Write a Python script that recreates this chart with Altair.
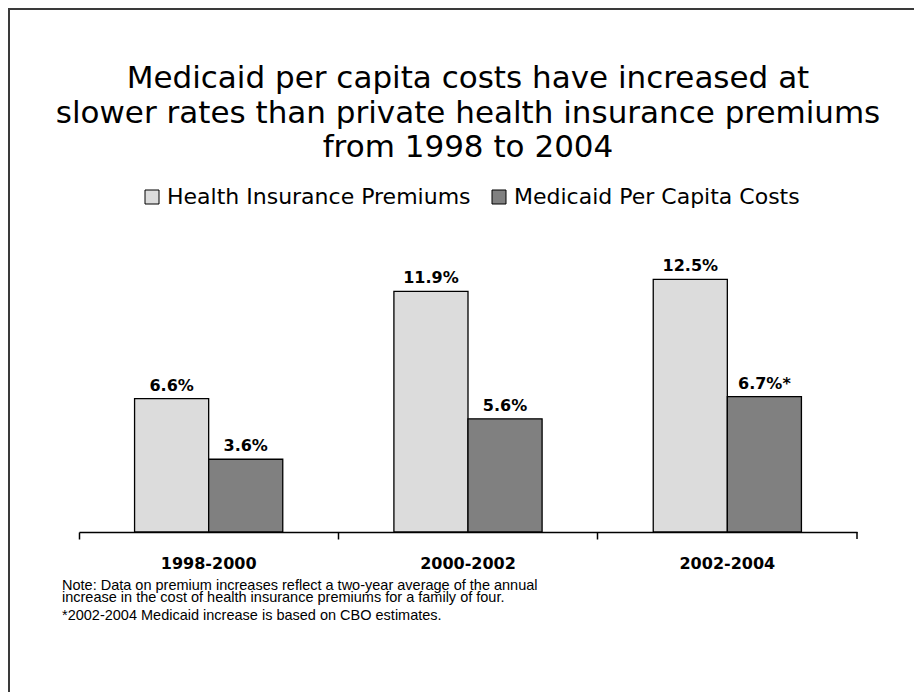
import altair as alt
import pandas as pd

periods = ["1998-2000", "2000-2002", "2002-2004"]
series = ["Health Insurance Premiums", "Medicaid  Per Capita Costs"]
health = [6.6, 11.9, 12.5]
medicaid = [3.6, 5.6, 6.7]
health_labels = ["6.6%", "11.9%", "12.5%"]
medicaid_labels = ["3.6%", "5.6%", "6.7%*"]
colors = ["#dcdcdc", "#808080"]

title_lines = [
    "Medicaid per capita costs have increased at",
    "slower rates than private health insurance premiums",
    "from 1998 to 2004",
]
note_lines = [
    "Note:  Data on premium increases reflect a two-year average of the annual",
    "increase in the cost of health insurance premiums for a family of four.",
]
footnote = "*2002-2004 Medicaid increase is based on CBO estimates."

rows = []
for i, p in enumerate(periods):
    rows.append(dict(period=p, series=series[0], value=health[i], label=health_labels[i]))
    rows.append(dict(period=p, series=series[1], value=medicaid[i], label=medicaid_labels[i]))
df = pd.DataFrame(rows)
cats = pd.DataFrame({"period": periods})
one = pd.DataFrame({"a": [0]})

W, H = 778, 283
FONT = "DejaVu Sans"

x = alt.X(
    "period:N", sort=periods,
    scale=alt.Scale(paddingInner=0, paddingOuter=0),
    axis=alt.Axis(title=None, labels=False, bandPosition=0, domainColor="black",
                  tickColor="black", tickSize=7, domainWidth=1.5, tickWidth=1.5, grid=False),
)
xo = alt.XOffset("series:N", sort=series, scale=alt.Scale(paddingOuter=0.75, paddingInner=0))
y = alt.Y("value:Q", scale=alt.Scale(domain=[0, 14]), axis=None)

bars = alt.Chart(df).mark_bar(stroke="black", strokeWidth=1.3).encode(
    x=x, xOffset=xo, y=y,
    color=alt.Color(
        "series:N", sort=series, scale=alt.Scale(domain=series, range=colors),
        legend=alt.Legend(title=None, orient="none", legendX=62, legendY=-63,
                          direction="horizontal", symbolType="square", symbolSize=196,
                          symbolStrokeColor="black", symbolStrokeWidth=1,
                          labelFont=FONT, labelFontSize=22, labelColor="black",
                          labelLimit=0, columnPadding=17, labelOffset=4),
    ),
)

values = alt.Chart(df).mark_text(
    dy=-8, baseline="alphabetic", font=FONT, fontWeight="bold", fontSize=16, color="black"
).encode(x=x, xOffset=xo, y=y, text="label:N")

cat_labels = alt.Chart(cats).mark_text(
    baseline="alphabetic", font=FONT, fontWeight="bold", fontSize=16, color="black"
).encode(x=alt.X("period:N", sort=periods), y=alt.value(H + 37), text="period:N")

end_tick = alt.Chart(one).mark_rule(color="black", strokeWidth=1.5).encode(
    x=alt.value(W), y=alt.value(H), y2=alt.value(H + 7)
)

title = alt.Chart(one).mark_text(
    align="center", baseline="alphabetic", font=FONT, fontSize=31, lineHeight=34.5, color="black"
).encode(x=alt.value(W / 2), y=alt.value(-161), text=alt.value(title_lines))

notes = alt.Chart(one).mark_text(
    align="left", baseline="alphabetic", font="Liberation Sans", fontSize=14.5, lineHeight=11.5,
    color="black"
).encode(x=alt.value(-17), y=alt.value(341), text=alt.value(note_lines))

foot = alt.Chart(one).mark_text(
    align="left", baseline="alphabetic", font="Liberation Sans", fontSize=14.5, color="black"
).encode(x=alt.value(-17), y=alt.value(371), text=alt.value(footnote))

border = alt.Chart(one).mark_rect(fillOpacity=0, stroke="#3a3a3a", strokeWidth=2).encode(
    x=alt.value(-70), x2=alt.value(W + 200), y=alt.value(-240), y2=alt.value(H + 300)
)

chart = alt.layer(border, bars, values, cat_labels, end_tick, title, notes, foot).properties(
    width=W, height=H,
    autosize=alt.AutoSizeParams(type="none"),
    padding={"left": 71, "top": 241, "right": 57, "bottom": 160},
).configure_view(stroke=None)

chart.save("out.html", embed_options={"renderer": "svg", "actions": False})
